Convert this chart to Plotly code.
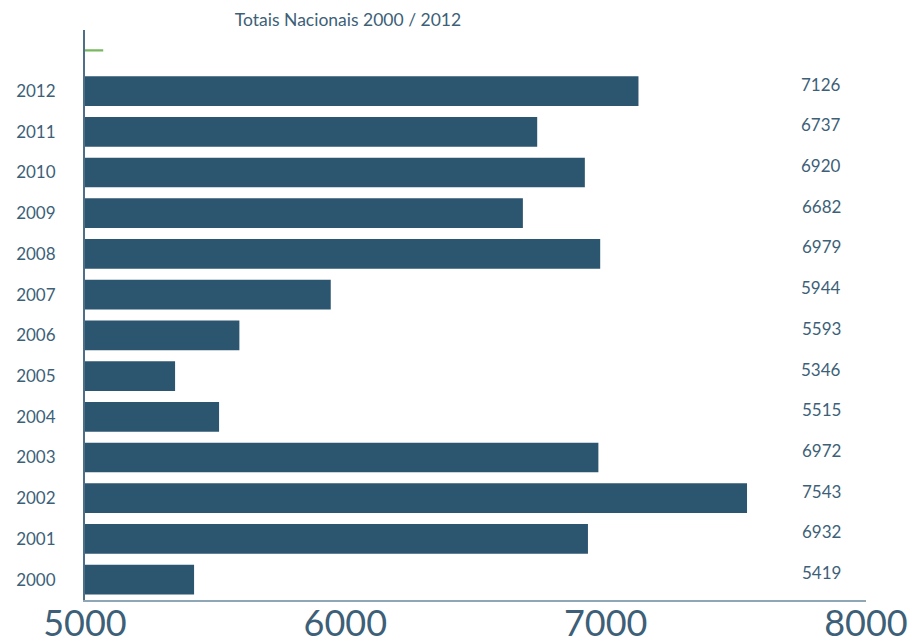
import plotly.graph_objects as go

years = ["2000", "2001", "2002", "2003", "2004", "2005", "2006",
         "2007", "2008", "2009", "2010", "2011", "2012"]
values = [5419, 6932, 7543, 6972, 5515, 5346, 5593,
          5944, 6979, 6682, 6920, 6737, 7126]
marker_cat = [" "]
marker_val = [5070]
x_ticks = [5000, 6000, 7000, 8000]
title_text = "Totais Nacionais 2000 / 2012"

bar_color = "#2c566f"
text_color = "#3d5f78"
font_family = "Lato, 'Open Sans', sans-serif"
categories = years + marker_cat

fig = go.Figure()
fig.add_trace(go.Bar(
    y=years, x=values, orientation="h",
    marker=dict(color=bar_color, line=dict(width=0)),
    width=0.73, showlegend=False, hoverinfo="x+y",
))
fig.add_trace(go.Bar(
    y=marker_cat, x=marker_val, orientation="h",
    marker=dict(color="#78b861", line=dict(width=0)),
    width=0.06, showlegend=False,
))

for yr, v in zip(years, values):
    fig.add_annotation(
        x=7913, y=categories.index(yr), xref="x", yref="y", text=str(v),
        showarrow=False, xanchor="right", yanchor="middle", yshift=7,
        font=dict(size=17, color=text_color, family=font_family),
    )

fig.update_layout(
    width=908, height=639,
    margin=dict(l=85, r=42, t=30, b=39, autoexpand=False),
    paper_bgcolor="white", plot_bgcolor="white",
    barmode="overlay",
    title=dict(text=title_text, x=348/908, xanchor="center", y=1 - 20/639,
               yanchor="middle", automargin=False,
               font=dict(size=17.5, color=text_color, family=font_family)),
    xaxis=dict(
        range=[5000, 8000], tickvals=x_ticks, ticktext=[str(t) for t in x_ticks],
        showgrid=False, zeroline=False, automargin=False,
        showline=True, linecolor="#8fa6b6", linewidth=2,
        ticks="", tickfont=dict(size=36, color=text_color, family=font_family),
        ticklabelstandoff=-9, ticklabeloverflow="allow",
    ),
    yaxis=dict(
        type="category",
        categoryorder="array", categoryarray=categories,
        range=[-0.5, 13.5], automargin=False,
        showgrid=False, zeroline=False,
        showline=True, linecolor="#4f6f88", linewidth=2,
        ticks="", ticklabelstandoff=24,
        tickfont=dict(size=17, color=text_color, family=font_family),
    ),
)

fig.write_html("out.html",
               config={"displayModeBar": False},
               post_script="document.body.style.margin='0';document.body.style.overflow='hidden';")
